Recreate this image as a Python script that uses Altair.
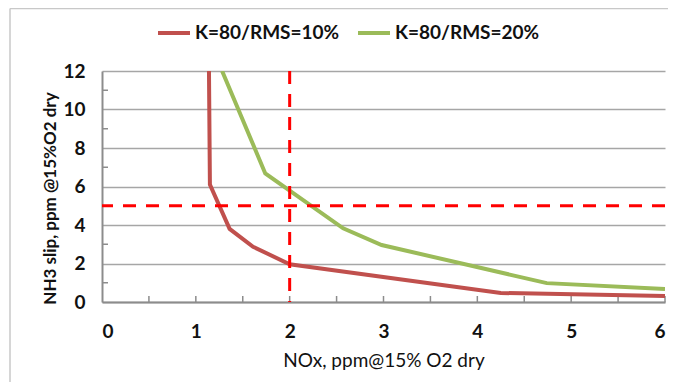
import altair as alt
import pandas as pd

# ---- data ----
series_names = ["K=80/RMS=10%", "K=80/RMS=20%"]
series_colors = ["#C0504D", "#9BBB59"]

red_x = [1.14, 1.15, 1.36, 1.61, 2.0, 4.25, 6.0]
red_y = [12.0, 6.1, 3.8, 2.87, 1.96, 0.47, 0.31]

green_x = [1.28, 1.74, 2.57, 2.98, 4.74, 6.0]
green_y = [12.0, 6.68, 3.83, 2.96, 0.98, 0.67]

x_ticks = [0, 1, 2, 3, 4, 5, 6]
y_ticks = [0, 2, 4, 6, 8, 10, 12]
x_minor = [0.5, 1, 1.5, 2, 2.5, 3, 3.5, 4, 4.5, 5, 5.5, 6]
y_minor = [1, 3, 5, 7, 9, 11]

nox_limit = 2
slip_limit = 5

W, H = 563, 231
FONT = "Lato"

rows = []
for i, (x, y) in enumerate(zip(red_x, red_y)):
    rows.append({"series": series_names[0], "nox": x, "slip": y, "i": i})
for i, (x, y) in enumerate(zip(green_x, green_y)):
    rows.append({"series": series_names[1], "nox": x, "slip": y, "i": i})
df = pd.DataFrame(rows)

xscale = alt.Scale(domain=[0, 6], nice=False, zero=True)
yscale = alt.Scale(domain=[0, 12], nice=False)

xaxis = alt.Axis(values=x_ticks, format="d", title="NOx, ppm@15% O2 dry", grid=False,
                 ticks=False, labelOverlap=False, labelPadding=20,
                 titleY=49, titleBaseline="top", titleFontWeight="normal",
                 titleFontSize=19)
yaxis = alt.Axis(values=y_ticks, format="d", title="NH3 slip, ppm @15%O2 dry", grid=True,
                 ticks=False, labelOverlap=False, labelPadding=17,
                 titleX=-52, titleY=127, titleBaseline="middle",
                 titleAlign="center", titleFontWeight="bold", titleFontSize=17)


def X():
    return alt.X("nox:Q", scale=xscale, axis=xaxis)


def Y():
    return alt.Y("slip:Q", scale=yscale, axis=yaxis)


lines = alt.Chart(df).mark_line(strokeWidth=4, clip=True).encode(
    x=X(),
    y=Y(),
    color=alt.Color(
        "series:N",
        scale=alt.Scale(domain=series_names, range=series_colors),
        legend=alt.Legend(title=None, orient="none", direction="horizontal",
                          legendX=54, legendY=-56, symbolType="stroke",
                          symbolStrokeWidth=4, symbolSize=1024, labelOffset=3,
                          columnPadding=10, padding=0),
    ),
    detail="series:N",
    order="i:Q",
)

vline = alt.Chart(pd.DataFrame({"nox": [nox_limit]})).mark_rule(
    color="#FF0000", strokeWidth=3, strokeDash=[13, 10]
).encode(x=X())

hline = alt.Chart(pd.DataFrame({"slip": [slip_limit]})).mark_rule(
    color="#FF0000", strokeWidth=3, strokeDash=[13, 10]
).encode(y=Y())

xminor = alt.Chart(pd.DataFrame({"nox": x_minor})).mark_rule(
    color="#8C8C8C", strokeWidth=1.5
).encode(x=X(), y=alt.value(H), y2=alt.value(H - 6))

yminor = alt.Chart(pd.DataFrame({"slip": y_minor})).mark_rule(
    color="#8C8C8C", strokeWidth=1.5
).encode(y=Y(), x=alt.value(0), x2=alt.value(6))

one = pd.DataFrame({"a": [0]})
frame_left = alt.Chart(one).mark_rule(color="#C8C8C8", strokeWidth=1.5).encode(
    x=alt.value(-92), y=alt.value(-62.5), y2=alt.value(H + 80)
)
frame_top = alt.Chart(one).mark_rule(color="#C8C8C8", strokeWidth=1.5).encode(
    y=alt.value(-62.5), x=alt.value(-92), x2=alt.value(W + 3)
)

chart = alt.layer(
    frame_left, frame_top, xminor, yminor, lines, hline, vline
).properties(
    width=W, height=H,
    autosize=alt.AutoSizeParams(type="none"),
    padding={"left": 94, "top": 63, "right": 3, "bottom": 80},
).configure_view(stroke=None).configure_axis(
    labelFont=FONT, labelFontSize=19, labelFontWeight="bold", labelColor="#111111",
    titleFont=FONT, titleColor="#111111",
    domainColor="#8C8C8C", domainWidth=2,
    gridColor="#A6A6A6", gridWidth=1.5,
).configure_legend(
    labelFont=FONT, labelFontSize=19, labelFontWeight="bold", labelColor="#111111",
)

chart.save("out.html", embed_options={"renderer": "svg", "actions": False})
